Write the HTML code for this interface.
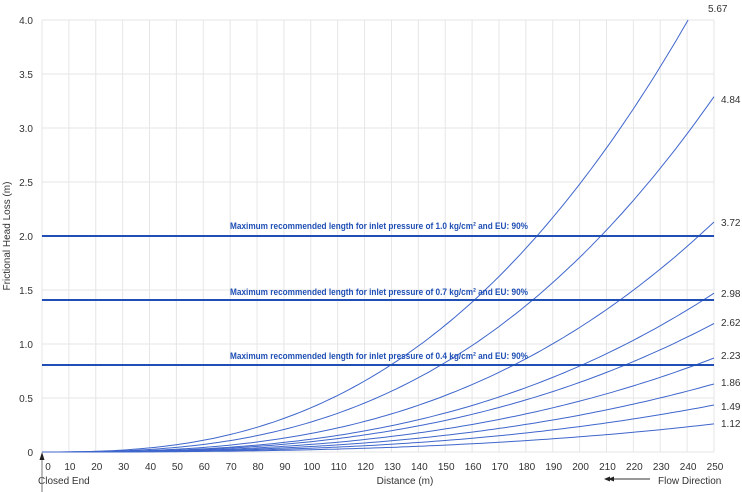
<!DOCTYPE html>
<html><head><meta charset="utf-8"><style>
html,body{margin:0;padding:0;background:#fff;width:742px;height:492px;overflow:hidden}
svg{display:block;font-family:"Liberation Sans Narrow","Liberation Sans",sans-serif}
</style></head><body>
<svg id="s" width="742" height="492" viewBox="0 0 742 492" xmlns="http://www.w3.org/2000/svg">
<g id="grid" stroke="#e6e6e6" stroke-width="1"></g>
<g id="curves" fill="none" stroke="#3f66cc" stroke-width="1"></g>
<g stroke="#1f4fb5" stroke-width="2">
<line x1="42" y1="236" x2="714" y2="236"/>
<line x1="42" y1="300" x2="714" y2="300"/>
<line x1="42" y1="365" x2="714" y2="365"/>
</g>
<g fill="#1f4fb5" font-weight="bold" font-size="9.5">
<text x="230" y="229" textLength="298" lengthAdjust="spacingAndGlyphs">Maximum recommended length for inlet pressure of 1.0 kg/cm² and EU: 90%</text>
<text x="230" y="295" textLength="298" lengthAdjust="spacingAndGlyphs">Maximum recommended length for inlet pressure of 0.7 kg/cm² and EU: 90%</text>
<text x="230" y="359" textLength="298" lengthAdjust="spacingAndGlyphs">Maximum recommended length for inlet pressure of 0.4 kg/cm² and EU: 90%</text>
</g>
<g id="ylab" font-size="10" fill="#333" text-anchor="end"></g>
<g id="xlab" font-size="10" fill="#333" text-anchor="middle"></g>
<g font-size="10" fill="#333">
<text x="708" y="12">5.67</text>
<text x="721" y="103">4.84</text>
<text x="721" y="226">3.72</text>
<text x="721" y="297">2.98</text>
<text x="721" y="326">2.62</text>
<text x="721" y="359">2.23</text>
<text x="721" y="386">1.86</text>
<text x="721" y="410">1.49</text>
<text x="721" y="427">1.12</text>
<text x="10" y="236" text-anchor="middle" transform="rotate(-90 10 236)">Frictional Head Loss (m)</text>
<text x="38" y="484">Closed End</text>
<text x="405" y="484" text-anchor="middle">Distance (m)</text>
<text x="658" y="484">Flow Direction</text>
</g>
<line x1="42" y1="458" x2="42" y2="492" stroke="#777" stroke-width="1"/>
<polygon points="42,452 39.5,460 44.5,460" fill="#222"/>
<line x1="607" y1="479" x2="650" y2="479" stroke="#333" stroke-width="1"/>
<polygon points="604,479 610,476.5 610,481.5" fill="#222"/>
<polygon points="608,479 614,476.5 614,481.5" fill="#222"/>
<script>
var ns="http://www.w3.org/2000/svg";
function X(d){return 42+d*2.688}
function Y(v){return 452-v*108}
function el(p,t,a){var e=document.createElementNS(ns,t);for(var k in a)e.setAttribute(k,a[k]);document.getElementById(p).appendChild(e);return e}
for(var d=0;d<=250;d+=10)el("grid","line",{x1:X(d),y1:20,x2:X(d),y2:452});
for(var v=0;v<=4.0001;v+=0.5){el("grid","line",{x1:42,y1:Y(v),x2:714,y2:Y(v)});
 var t=el("ylab","text",{x:33,y:Y(v)+4});t.textContent=v==0?"0":v.toFixed(1);}
for(var d=0;d<=250;d+=10){var t=el("xlab","text",{x:d==0?48:X(d)+1,y:470});t.textContent=d;}
var ks=[[4.43,2.6],[3.29,2.7],[2.13,2.75],[1.47,2.75],[1.19,2.75],[0.87,2.75],[0.63,2.75],[0.435,2.75],[0.26,2.75]];
ks.forEach(function(c){var k=c[0],n=c[1],p="";for(var d=0;d<=250;d+=2){var v=k*Math.pow(d/250,n);if(v>4){break}p+=(p?"L":"M")+X(d).toFixed(1)+","+Y(v).toFixed(1);}
 if(k>4){var dd=250*Math.pow(4/k,1/n);p+="L"+X(dd).toFixed(1)+","+Y(4)}
 el("curves","path",{d:p});});
</script>
</svg>
</body></html>
